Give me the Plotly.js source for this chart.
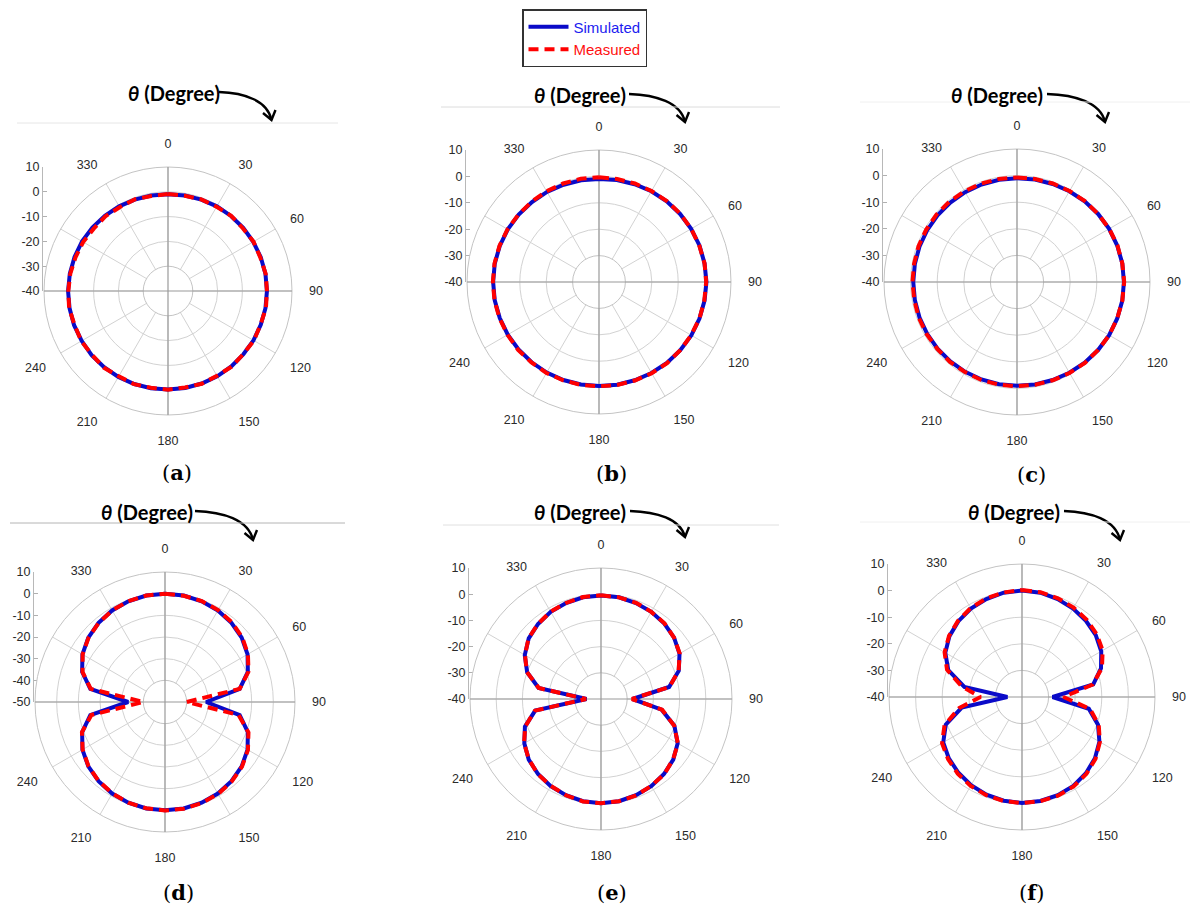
<!DOCTYPE html>
<html>
<head>
<meta charset="utf-8">
<script src="https://cdn.plot.ly/plotly-3.0.1.min.js"></script>
<style>html,body{margin:0;padding:0;background:#fff;}#chart{width:1190px;height:909px;}</style>
</head>
<body>
<div id="chart"></div>
<script>
// ---------------- DATA ----------------
const thetaDeg = [0,10,20,30,40,50,60,70,80,90,100,110,120,130,140,150,160,170,180,190,200,210,220,230,240,250,260,270,280,290,300,310,320,330,340,350,360];
const angTickVals = [0,30,60,90,120,150,180,210,240,270,300,330];
const angTickText = ['0','30','60','90','120','150','180','210','240','','','330'];
const dbTicks40 = [10,0,-10,-20,-30,-40];
const dbLabels40 = ['10','0','-10','-20','-30','-40'];
const dbTicks50 = [10,0,-10,-20,-30,-40,-50];
const dbLabels50 = ['10','0','-10','-20','-30','-40','-50'];
const panelLetters = ['a','b','c','d','e','f'];
const seriesNames = ['Simulated','Measured'];

const simA  = [-1.0,-0.9,-0.8,-0.6,-0.5,-0.4,-0.3,-0.2,-0.1,-0.1,-0.1,-0.2,-0.2,-0.3,-0.3,-0.3,-0.3,-0.3,-0.3,-0.2,-0.1,0.0,0.1,0.2,0.2,0.3,0.3,0.3,0.2,0.1,0.0,-0.2,-0.4,-0.6,-0.8,-0.9,-1.0];
const measA = [-0.9,-1.0,-0.7,-0.8,-0.4,-0.6,-0.2,-0.4,0.0,-0.1,0.1,-0.3,0.0,-0.4,-0.1,-0.5,-0.2,-0.5,-0.2,-0.4,0.0,-0.3,0.3,0.0,0.4,0.1,0.5,0.2,0.0,-0.3,-0.5,-0.9,-0.7,-1.0,-0.7,-1.1,-0.9];

const simB  = [-1.0,-0.8,-0.6,-0.3,-0.1,0.1,0.3,0.5,0.6,0.7,0.6,0.5,0.4,0.2,0.0,-0.2,-0.4,-0.5,-0.6,-0.6,-0.5,-0.4,-0.3,-0.2,-0.1,0.0,0.1,0.1,0.1,0.0,-0.1,-0.3,-0.5,-0.6,-0.8,-0.9,-1.0];
const measB = [-0.3,-0.4,-0.3,-0.2,0.0,0.2,0.3,0.4,0.6,0.6,0.5,0.5,0.3,0.2,0.1,-0.1,-0.3,-0.4,-0.5,-0.4,-0.4,-0.2,-0.2,0.0,0.0,0.1,0.2,0.2,0.2,0.1,0.0,-0.2,-0.3,-0.3,-0.3,-0.3,-0.3];

const simC  = [-1.0,-0.9,-0.8,-0.6,-0.4,-0.2,0.0,0.1,0.2,0.2,0.2,0.1,0.0,-0.2,-0.4,-0.6,-0.8,-0.9,-1.0,-1.0,-1.0,-1.0,-1.0,-1.0,-1.0,-1.0,-1.0,-1.0,-1.0,-1.0,-1.0,-1.0,-1.0,-1.0,-1.0,-1.0,-1.0];
const measC = [-0.7,-0.7,-0.6,-0.5,-0.3,-0.2,0.0,0.2,0.2,0.3,0.2,0.1,0.0,-0.2,-0.3,-0.5,-0.7,-0.8,-0.8,-0.8,-0.8,-0.9,-0.8,-0.9,-0.8,-0.7,-0.8,-0.7,-0.7,-0.6,-0.6,-0.5,-0.5,-0.6,-0.6,-0.7,-0.7];

const simD  = [0.0,-0.1,-0.5,-1.2,-2.3,-3.8,-6.0,-9.3,-15.0,-31.0,-15.0,-9.3,-6.0,-3.8,-2.3,-1.2,-0.5,-0.1,0.0,-0.1,-0.5,-1.2,-2.3,-3.8,-6.0,-9.3,-15.0,-33.0,-15.0,-9.3,-6.0,-3.8,-2.3,-1.2,-0.5,-0.1,0.0];
const measD = [0.0,-0.2,-0.4,-1.0,-2.0,-3.5,-5.8,-9.0,-15.0,-40.0,-15.5,-9.0,-5.8,-3.6,-2.1,-1.0,-0.4,0.0,0.1,-0.2,-0.5,-1.3,-2.4,-3.9,-6.1,-9.2,-15.5,-40.0,-15.2,-9.5,-6.1,-3.9,-2.4,-1.2,-0.5,-0.1,0.0];

const simE  = [-0.5,-0.6,-1.0,-1.6,-2.4,-3.6,-5.4,-8.4,-13.6,-28.0,-16.5,-10.2,-6.2,-4.0,-2.6,-1.6,-0.9,-0.4,-0.2,-0.4,-0.9,-1.6,-2.6,-4.0,-6.2,-9.1,-14.5,-34.5,-15.8,-10.0,-6.4,-4.0,-2.6,-1.6,-1.0,-0.6,-0.5];
const measE = [-0.4,-0.6,-0.9,-1.6,-2.3,-3.6,-5.3,-8.5,-13.5,-28.2,-16.3,-10.3,-6.1,-4.1,-2.5,-1.7,-0.8,-0.4,-0.2,-0.3,-0.9,-1.7,-2.5,-4.1,-6.1,-9.2,-14.4,-34.3,-15.9,-9.9,-6.5,-3.9,-2.6,-1.5,-1.0,-0.5,-0.4];

const simF  = [0.0,-0.2,-0.8,-1.6,-2.6,-3.8,-5.6,-8.4,-12.8,-28.5,-14.5,-9.6,-6.4,-4.2,-2.6,-1.4,-0.7,-0.3,-0.2,-0.4,-0.9,-1.7,-2.8,-4.1,-5.8,-9.5,-17.0,-34.5,-18.0,-10.5,-6.7,-4.4,-2.8,-1.6,-0.8,-0.2,0.0];
const measF = [0.2,0.0,-0.5,-1.2,-2.1,-3.3,-5.0,-8.0,-13.0,-24.4,-14.0,-9.3,-6.2,-3.9,-2.3,-1.2,-0.5,-0.2,-0.1,-0.3,-0.7,-1.4,-2.4,-3.7,-5.3,-9.0,-16.0,-24.4,-17.0,-10.0,-6.4,-4.2,-2.6,-1.4,-0.6,-0.1,0.2];

const simSets  = [simA, simB, simC, simD, simE, simF];
const measSets = [measA, measB, measC, measD, measE, measF];
const rMins    = [-40, -40, -40, -50, -40, -40];
const dbTickSets  = [dbTicks40, dbTicks40, dbTicks40, dbTicks50, dbTicks40, dbTicks40];
const dbLabelSets = [dbLabels40, dbLabels40, dbLabels40, dbLabels50, dbLabels40, dbLabels40];

// ---------------- LAYOUT GEOMETRY (pixels) ----------------
const W = 1190, H = 909;
const geom = [
  {cx:168, cy:291, R:124, tx:126, ty:93,  ex:219,  hx:271.5, hy:120, lx:177,  ly:472, sep:{x0:17,  x1:338,  y:123, c:'#e6e6e6'}},
  {cx:599, cy:282, R:132, tx:532, ty:95,  ex:629,  hx:685,   hy:122, lx:612,  ly:473, sep:{x0:441, x1:780,  y:107, c:'#dcdcdc'}},
  {cx:1017,cy:282, R:133, tx:949, ty:95,  ex:1047, hx:1105,  hy:122, lx:1031, ly:475, sep:{x0:860, x1:1190, y:102, c:'#f0f0f0'}},
  {cx:165, cy:702, R:130, tx:99,  ty:512, ex:195,  hx:253,   hy:540, lx:178,  ly:892, sep:{x0:10,  x1:345,  y:523, c:'#b4b4b4'}},
  {cx:601, cy:699, R:131, tx:532, ty:512, ex:630,  hx:685,   hy:537, lx:612,  ly:892, sep:{x0:443, x1:779,  y:525, c:'#e0e0e0'}},
  {cx:1022,cy:697, R:133, tx:966, ty:512, ex:1064, hx:1120,  hy:540, lx:1031, ly:892, sep:{x0:860, x1:1190, y:522, c:'#f0f0f0'}}
];
const gridIds = ['polar','polar10','polar2','polar4','polar6','polar8'];
const dataIds = ['polar12','polar11','polar3','polar5','polar7','polar9'];

const px = x => x / W;
const py = y => 1 - y / H;
const P = (x, y) => px(x).toFixed(5) + ',' + py(y).toFixed(5);

const tickFont = {family:'Liberation Sans, Arial, sans-serif', size:12.5, color:'#2a2a2a'};
const layout = {
  width: W, height: H,
  margin: {l:0, r:0, t:0, b:0},
  paper_bgcolor: '#ffffff',
  plot_bgcolor: 'rgba(0,0,0,0)',
  showlegend: true,
  legend: {
    x: px(522), y: py(9), xanchor: 'left', yanchor: 'top',
    bgcolor: '#ffffff', bordercolor: '#333333', borderwidth: 1.5,
    font: {family:'Liberation Sans, Arial, sans-serif', size:15, color:'#000'},
    tracegroupgap: 0, itemwidth: 40
  },
  annotations: [],
  shapes: []
};

const traces = [];
geom.forEach((g, i) => {
  traces.push({type:'scatterpolar', subplot: gridIds[i], r: [], theta: [], mode:'lines', showlegend:false, hoverinfo:'skip'});
});

geom.forEach((g, i) => {
  const rmin = rMins[i];
  const dom = {x:[px(g.cx - g.R), px(g.cx + g.R)], y:[py(g.cy + g.R), py(g.cy - g.R)]};
  layout[gridIds[i]] = {
    domain: dom,
    bgcolor: '#ffffff',
    hole: 10 / (10 - rmin),
    radialaxis: {range:[rmin + 10, 10], dtick:10, tick0:0, showticklabels:false, ticks:'', showline:false,
                 gridcolor:'#d2d2d2', gridwidth:1},
    angularaxis: {rotation:90, direction:'clockwise', tickmode:'array', tickvals:angTickVals, ticktext:angTickText,
                  ticks:'outside', ticklen:14, tickcolor:'rgba(0,0,0,0)', gridcolor:'#d2d2d2', gridwidth:1,
                  showline:true, linecolor:'#c4c4c4', linewidth:1, tickfont:tickFont}
  };
  layout[dataIds[i]] = {
    domain: dom,
    bgcolor: 'rgba(0,0,0,0)',
    radialaxis: {range:[rmin, 10], visible:false},
    angularaxis: {rotation:90, direction:'clockwise', tickmode:'array', tickvals:[0,90,180,270],
                  showticklabels:false, ticks:'', showline:false, gridcolor:'#9a9a9a', gridwidth:1.2}
  };
  const k = i + 2;
  layout['xaxis' + k] = {domain:[px(g.cx - g.R - 1), px(g.cx - g.R + 5)], visible:false, anchor:'y' + k, fixedrange:true};
  layout['yaxis' + k] = {domain:[py(g.cy), py(g.cy - g.R)], range:[rmin, 10], anchor:'x' + k,
    tickmode:'array', tickvals:dbTickSets[i], ticktext:dbLabelSets[i],
    ticks:'inside', ticklen:4, tickcolor:'#b0b0b0', showline:true, linecolor:'#b8b8b8', linewidth:1,
    showgrid:false, zeroline:false, tickfont:tickFont, fixedrange:true};
  traces.push({type:'scatter', x:[], y:[], xaxis:'x' + k, yaxis:'y' + k, showlegend:false, hoverinfo:'skip'});

  layout.annotations.push({xref:'paper', yref:'paper', x:px(g.tx), y:py(g.ty), xanchor:'left', yanchor:'middle',
    text:'<b><i>θ</i> (Degree)</b>', showarrow:false, font:{family:'Lato, Open Sans, sans-serif', size:20, color:'#000'}});
  layout.annotations.push({xref:'paper', yref:'paper', x:px(g.lx), y:py(g.ly), xanchor:'center', yanchor:'middle',
    text:'(<b>' + panelLetters[i] + '</b>)', showarrow:false, font:{family:'DejaVu Serif, serif', size:21, color:'#000'}});
  const sx = g.ex, sy = g.ty - 1, dx = g.hx - sx, dy = g.hy - sy;
  layout.shapes.push({type:'path', xref:'paper', yref:'paper', line:{color:'#000', width:2.4},
    path:'M' + P(sx, sy) + ' C' + P(sx + 0.48*dx, sy + 0.03*dy) + ' ' + P(sx + 0.92*dx, sy + 0.3*dy) + ' ' + P(g.hx, g.hy)});
  layout.shapes.push({type:'path', xref:'paper', yref:'paper', line:{color:'#000', width:2.4},
    path:'M' + P(g.hx - 8.5, g.hy - 7) + ' L' + P(g.hx, g.hy) + ' L' + P(g.hx + 4, g.hy - 10)});
  layout.shapes.push({type:'line', xref:'paper', yref:'paper', x0:px(g.sep.x0), x1:px(g.sep.x1), y0:py(g.sep.y), y1:py(g.sep.y),
    line:{color:g.sep.c, width:1}});
});

geom.forEach((g, i) => {
  traces.push({type:'scatterpolar', subplot:dataIds[i], r:simSets[i], theta:thetaDeg, mode:'lines',
    name:'<span style="color:#1c1cf0">' + seriesNames[0] + '</span>', legendgroup:'sim', showlegend:i === 0,
    line:{color:'#0a0ac8', width:4}, hoverinfo:'skip'});
  traces.push({type:'scatterpolar', subplot:dataIds[i], r:measSets[i], theta:thetaDeg, mode:'lines',
    name:'<span style="color:#ff1010">' + seriesNames[1] + '</span>', legendgroup:'meas', showlegend:i === 0,
    line:{color:'#ff0000', width:4, dash:'10px,6px'}, hoverinfo:'skip'});
});

Plotly.newPlot('chart', traces, layout, {displayModeBar:false, staticPlot:true});
</script>
</body>
</html>
